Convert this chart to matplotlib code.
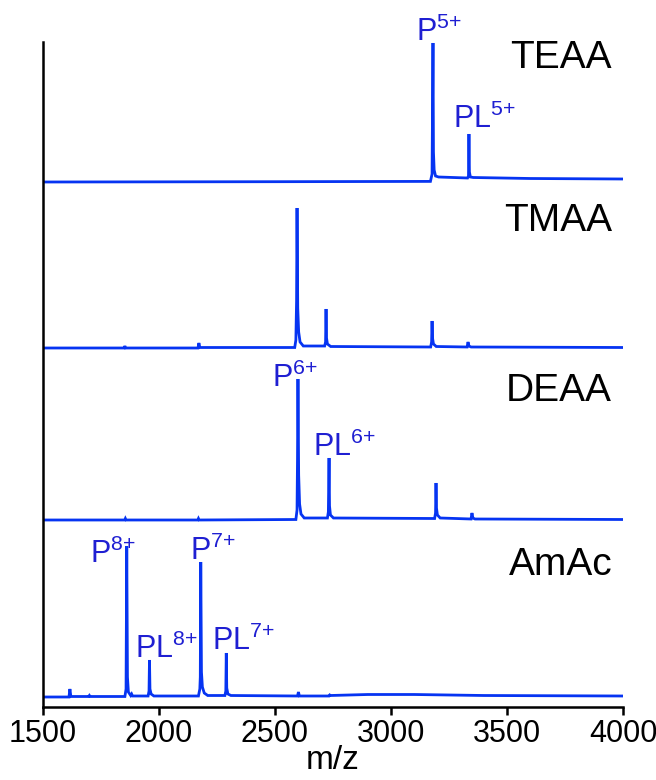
import matplotlib
matplotlib.use("Agg")
import matplotlib.pyplot as plt

plt.rcParams['font.family'] = ['Liberation Sans', 'DejaVu Sans']
plt.rcParams['mathtext.fontset'] = 'custom'
plt.rcParams['mathtext.rm'] = 'Liberation Sans'
plt.rcParams['mathtext.it'] = 'Liberation Sans'

# spectra: m/z points and intensity (a.u.) above each baseline
teaa_mz = [1500, 2500, 3170, 3177, 3181, 3183, 3186, 3192, 3205, 3330, 3334, 3336,
           3338, 3342, 3355, 3600, 4000]
teaa_int = [0, 0.3, 0.6, 8, 139, 30, 12, 6, 5, 4, 6, 48, 10, 5, 4.5, 3.5, 3]

tmaa_mz = [1500, 1850, 1853, 1856, 2168, 2172, 2176, 2585, 2590, 2593, 2595, 2598,
           2602, 2608, 2622, 2714, 2718, 2720, 2722, 2726, 2740, 3171, 3175, 3177,
           3179, 3183, 3195, 3328, 3332, 3336, 3345, 4000]
tmaa_int = [0, 0, 2, 0, 0, 5, 0.5, 0.5, 8, 47, 140, 40, 16, 6, 2, 2, 6, 39, 10, 4,
            1.5, 1, 6, 27, 10, 4, 1.5, 1, 6, 2, 1, 0.5]

deaa_mz = [1500, 1852, 1855, 1858, 2167, 2170, 2173, 2590, 2595, 2597, 2599, 2602,
           2606, 2612, 2626, 2726, 2730, 2733, 2735, 2739, 2752, 3188, 3192, 3194,
           3196, 3200, 3212, 3345, 3349, 3353, 3362, 4000]
deaa_int = [0, 0, 1.5, 0, 0, 1.5, 0, 0.5, 10, 60, 141, 45, 16, 6, 2, 2, 8, 62, 14,
            5, 2, 1.5, 7, 37, 12, 5, 2, 1, 7, 2, 1, 0.5]

amac_mz = [1500, 1612, 1616, 1620, 1697, 1700, 1703, 1853, 1858, 1861, 1864, 1868,
           1878, 1882, 1886, 1953, 1957, 1959, 1961, 1966, 1978, 2170, 2176, 2178,
           2180, 2183, 2187, 2195, 2210, 2284, 2288, 2290, 2292, 2297, 2310, 2597,
           2601, 2605, 2700, 2733, 2736, 2739, 2900, 3100, 3400, 4000]
amac_int = [0, 0, 8, 0.5, 0.5, 1.5, 0.5, 0.5, 8, 151, 20, 5, 1.5, 3, 1, 1, 6, 37,
            8, 3, 1, 1, 8, 20, 135, 25, 10, 4, 1.5, 1.5, 6, 44, 9, 3, 1.5, 1,
            5, 1, 1, 1, 2, 1.5, 2.5, 2.5, 1.5, 1]

buffers = ['TEAA', 'TMAA', 'DEAA', 'AmAc']
spectra = [(teaa_mz, teaa_int), (tmaa_mz, tmaa_int), (deaa_mz, deaa_int), (amac_mz, amac_int)]

# peak labels: (buffer, text, m/z of label, height above baseline)
peak_labels = [
    ('TEAA', r'P$^{5{+}}$', 3108, 141),
    ('TEAA', r'PL$^{5{+}}$', 3267, 54),
    ('DEAA', r'P$^{6{+}}$', 2487, 133),
    ('DEAA', r'PL$^{6{+}}$', 2664, 64),
    ('AmAc', r'P$^{8{+}}$', 1703, 134),
    ('AmAc', r'PL$^{8{+}}$', 1897, 39),
    ('AmAc', r'P$^{7{+}}$', 2134, 137),
    ('AmAc', r'PL$^{7{+}}$', 2228, 47),
]

offsets = {'TEAA': 525, 'TMAA': 359, 'DEAA': 187, 'AmAc': 10}
name_y = {'TEAA': 124, 'TMAA': 127, 'DEAA': 129, 'AmAc': 132}

line_color = '#0634f2'
text_color = '#1f1fd2'

fig = plt.figure(figsize=(6.56, 7.8), dpi=100)
ax = fig.add_axes([43 / 656, 73 / 780, 580 / 656, 665 / 780])

for name, (mz, inten) in zip(buffers, spectra):
    off = offsets[name]
    ax.plot(mz, [v + off for v in inten], color=line_color, lw=2.0,
            solid_joinstyle='miter')
    ax.text(3953, off + name_y[name], name, fontsize=28, ha='right', va='center',
            color='black')

for name, txt, x, y in peak_labels:
    ax.text(x, offsets[name] + y, txt, fontsize=22, color=text_color,
            ha='left', va='baseline')

ax.set_xlim(1500, 4000)
ax.set_ylim(0, 665)
ax.set_xticks([1500, 2000, 2500, 3000, 3500, 4000])
ax.set_yticks([])
for s in ['top', 'right']:
    ax.spines[s].set_visible(False)
for s in ['left', 'bottom']:
    ax.spines[s].set_linewidth(1.8)
ax.tick_params(axis='x', direction='out', length=6, width=1.8, labelsize=22, pad=3)
ax.set_xlabel('m/z', fontsize=24, labelpad=-3)

fig.savefig('out.png', dpi=100)
